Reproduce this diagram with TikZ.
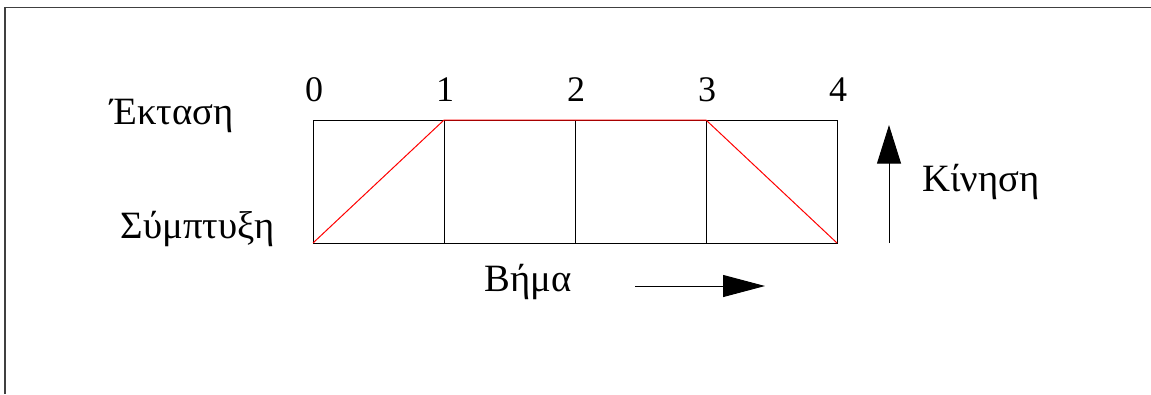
\documentclass[tikz,border=0pt]{standalone}
\usepackage{fontspec}
\setmainfont{Liberation Serif}
\usetikzlibrary{arrows.meta}

\begin{document}
\begin{tikzpicture}[
  x=0.75pt, y=-0.75pt,
  lbl/.style={anchor=base, inner sep=0pt, font=\fontsize{29}{34}\selectfont},
  num/.style={anchor=base, inner sep=0pt, font=\fontsize{27}{32}\selectfont},
  cell/.style={draw=black, line width=0.75pt},
  redline/.style={draw=red, line width=0.75pt},
  arr/.style={-{Triangle[length=31.5pt, width=16.5pt]}, line width=0.75pt},
  uparr/.style={-{Triangle[length=29pt, width=18pt]}, line width=0.75pt}
]
\useasboundingbox (0,0) rectangle (1151,394);
\draw[line width=1.2pt, draw=black!75] (5,394) -- (5,7.5) -- (1151,7.5);

% steps 0..4
\foreach \i/\x in {0/313,1/444,2/575,3/706,4/837}{
  \coordinate (t\i) at (\x,120);
  \coordinate (b\i) at (\x,243);
  \node[num] (n\i) at (\x+1,101) {\i};
}
\draw[cell] (t0) rectangle (b4);
\foreach \i in {1,2,3} \draw[cell] (t\i) -- (b\i);
\draw[redline] (b0) -- (t1) -- (t3) -- (b4);

\node[lbl] (ext) at (172,124) {Έκταση};
\node[lbl] (sym) at (198,238) {Σύμπτυξη};
\node[lbl] (bima) at (528,291) {Βήμα};
\node[lbl] (kin) at (981,191) {Κίνηση};

% arrows
\coordinate (h0) at (635,286);
\coordinate (h1) at (765,286);
\draw[arr] (h0) -- (h1);
\coordinate (v0) at (889,243);
\coordinate (v1) at (889,125);
\draw[uparr] (v0) -- (v1);
\end{tikzpicture}
\end{document}
